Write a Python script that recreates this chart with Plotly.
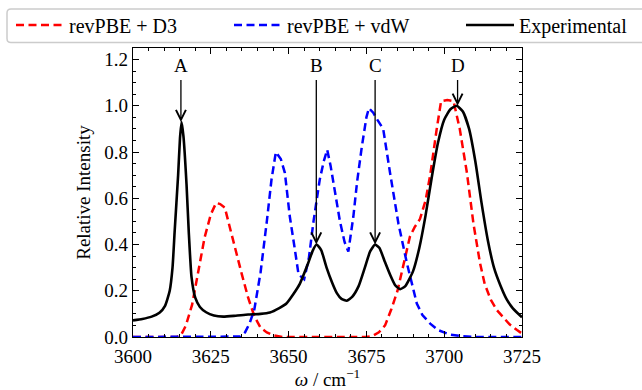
import plotly.graph_objects as go

# ---------------- data ----------------
exp_x = [3600, 3603, 3606, 3608.5, 3610.3, 3611.8, 3612.7, 3613.4, 3614.5, 3615.1, 3615.6, 3616.2,
         3617.2, 3617.9, 3618.8, 3620, 3621.5, 3623.5, 3626, 3629, 3633, 3637, 3641, 3644, 3647,
         3649.3, 3651.5, 3653.6, 3656.3, 3657.8, 3659, 3660.5, 3662.2, 3664, 3665.5, 3667, 3668.7,
         3670.5, 3672.5, 3674.5, 3676.2, 3677.8, 3679.2, 3680.8, 3682.6, 3684.2, 3685.8, 3687.5,
         3690, 3692, 3694, 3696, 3698, 3700, 3702, 3704, 3706, 3708, 3710, 3712, 3714, 3716, 3718,
         3720, 3722, 3725]
exp_y = [0.072, 0.078, 0.088, 0.105, 0.135, 0.2, 0.3, 0.46, 0.70, 0.86, 0.93, 0.87,
         0.66, 0.46, 0.26, 0.17, 0.13, 0.107, 0.093, 0.088, 0.092, 0.097, 0.1, 0.106, 0.125,
         0.145, 0.185, 0.23, 0.32, 0.375, 0.40, 0.375, 0.30, 0.235, 0.19, 0.165, 0.157,
         0.175, 0.22, 0.30, 0.37, 0.40, 0.385, 0.33, 0.27, 0.225, 0.207, 0.22,
         0.285, 0.385, 0.525, 0.69, 0.84, 0.94, 0.985, 1.0, 0.975, 0.90, 0.76, 0.58, 0.42, 0.30, 0.225,
         0.165, 0.125, 0.085]

d3_x = [3600, 3605, 3610, 3614, 3615.5, 3617, 3619, 3621, 3623, 3625, 3626.7, 3628, 3629.5, 3631,
        3633, 3635, 3637, 3639, 3641, 3643, 3645, 3648, 3655, 3660, 3665, 3670, 3675, 3677, 3679,
        3681, 3683, 3685, 3687, 3689, 3690.5, 3692.2, 3694, 3695.5, 3697.6, 3699, 3701, 3703, 3705,
        3707.3, 3709.4, 3711.5, 3713, 3715, 3717, 3719, 3721, 3723.4, 3725]
d3_y = [0, 0, 0, 0, 0.01, 0.05, 0.14, 0.28, 0.43, 0.53, 0.58, 0.575, 0.56, 0.48,
        0.37, 0.27, 0.17, 0.09, 0.04, 0.02, 0.008, 0, 0, 0, 0, 0, 0, 0.005, 0.02,
        0.05, 0.12, 0.2, 0.32, 0.435, 0.475, 0.51, 0.59, 0.70, 0.90, 1.02, 1.025, 1.02, 0.90,
        0.71, 0.49, 0.32, 0.23, 0.16, 0.115, 0.085, 0.055, 0.03, 0.015]

vdw_x = [3600, 3610, 3620, 3630, 3634.5, 3636, 3637.5, 3639, 3641, 3643, 3644.5, 3645.9, 3647.5,
         3648.8, 3650.4, 3652, 3653.2, 3655, 3656.5, 3658, 3660, 3661.3, 3662.4, 3663.5, 3665,
         3666.5, 3668, 3669.2, 3670.8, 3672, 3673.5, 3675, 3675.8, 3677.2, 3678.5, 3680.4, 3682.6,
         3685.3, 3688, 3691.2, 3693, 3695.5, 3698, 3702, 3706, 3710, 3725]
vdw_y = [0, 0, 0, 0, 0.002, 0.02, 0.06, 0.12, 0.28, 0.50, 0.68, 0.80, 0.77,
         0.71, 0.52, 0.38, 0.27, 0.25, 0.34, 0.5, 0.68, 0.76, 0.81, 0.74, 0.62,
         0.5, 0.41, 0.37, 0.52, 0.67, 0.82, 0.95, 0.99, 0.97, 0.94, 0.90, 0.71,
         0.49, 0.32, 0.145, 0.095, 0.058, 0.03, 0.01, 0.003, 0, 0]

series_names = ["revPBE + D3", "revPBE + vdW", "Experimental"]

peak_labels = ["A", "B", "C", "D"]
peak_x = [3615.4, 3658.9, 3677.8, 3704.3]
peak_y = [0.93, 0.40, 0.40, 1.0]
label_y = 1.176

x_range = [3600, 3725]
y_range = [0, 1.25]

# ---------------- figure ----------------
FONT = "Liberation Serif"
fig = go.Figure()

fig.add_trace(go.Scatter(x=d3_x, y=d3_y, mode="lines", name=series_names[0],
                         line=dict(color="#ff0000", width=2.5, dash="8px,4.5px"),
                         legend="legend", showlegend=True))
fig.add_trace(go.Scatter(x=vdw_x, y=vdw_y, mode="lines", name=series_names[1],
                         line=dict(color="#0000ff", width=2.5, dash="8px,4.5px"),
                         legend="legend2", showlegend=True))
fig.add_trace(go.Scatter(x=exp_x, y=exp_y, mode="lines", name=series_names[2],
                         line=dict(color="black", width=2.6, shape="spline", smoothing=0.5),
                         legend="legend3", showlegend=True))

W, H = 642, 390
ml, mr, mt, mb = 133, 120, 48, 53

def leg(xpx):
    return dict(xref="container", yref="container", x=xpx / W, y=1 - 25 / H,
                xanchor="left", yanchor="middle", orientation="h",
                bgcolor="rgba(0,0,0,0)", borderwidth=0, itemwidth=48,
                font=dict(family=FONT, size=20, color="black"))

annotations = []
for lab, px, py in zip(peak_labels, peak_x, peak_y):
    annotations.append(dict(x=px, y=py, ax=px, ay=label_y, xref="x", yref="y",
                            axref="x", ayref="y", text=lab, showarrow=True,
                            arrowhead=5, arrowsize=1.5, arrowwidth=1.3, arrowcolor="black",
                            startstandoff=3,
                            font=dict(family=FONT, size=19, color="black")))

# legend frame (rounded rect) in paper coordinates
pw = W - ml - mr
ph = H - mt - mb
def px2x(p):
    return (p - ml) / pw
def py2y(p):
    return (H - mb - p) / ph
x0, x1 = px2x(7), px2x(660)
yb, yt = py2y(42.5), py2y(9)
rx, ry = 4 / pw, 4 / ph
path = (f"M {x0+rx},{yb} L {x1},{yb} L {x1},{yt} L {x0+rx},{yt} "
        f"Q {x0},{yt} {x0},{yt-ry} L {x0},{yb+ry} Q {x0},{yb} {x0+rx},{yb} Z")

axis_common = dict(showline=True, linecolor="black", linewidth=1.2, mirror="allticks",
                   ticks="inside", ticklen=6, tickwidth=1, tickcolor="black",
                   showgrid=False, zeroline=False,
                   tickfont=dict(family=FONT, size=19, color="black"))

fig.update_layout(
    width=W, height=H,
    showlegend=True,
    margin=dict(l=ml, r=mr, t=mt, b=mb, autoexpand=False),
    paper_bgcolor="white", plot_bgcolor="white",
    font=dict(family=FONT, size=19, color="black"),
    legend=leg(11), legend2=leg(229), legend3=leg(461),
    annotations=annotations,
    shapes=[dict(type="path", xref="paper", yref="paper", path=path,
                 line=dict(color="#cccccc", width=1.5), fillcolor="rgba(0,0,0,0)",
                 layer="above")],
    xaxis=dict(range=x_range, tick0=3600, dtick=25,
               minor=dict(ticks="inside", ticklen=3, dtick=5, tickcolor="black", tickwidth=1),
               title=dict(text="<i>ω</i> / cm<sup>−1</sup>", font=dict(family=FONT, size=19),
                          standoff=8),
               ticklabelstandoff=2,
               **axis_common),
    yaxis=dict(range=y_range, tick0=0, dtick=0.2, tickformat=".1f",
               minor=dict(ticks="inside", ticklen=3, dtick=0.05, tickcolor="black", tickwidth=1),
               title=dict(text="Relative Intensity", font=dict(family=FONT, size=19),
                          standoff=8),
               **axis_common),
)

fig.write_html("out.html")
